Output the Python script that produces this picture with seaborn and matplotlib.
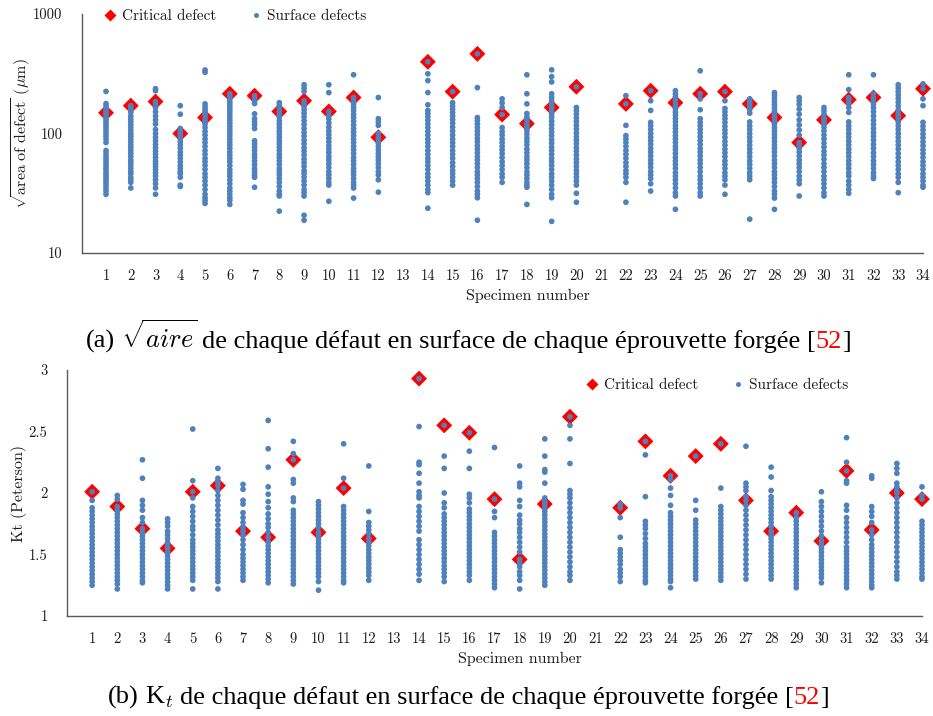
import numpy as np
import pandas as pd
import matplotlib
matplotlib.use("Agg")
import matplotlib.pyplot as plt
from matplotlib.lines import Line2D
import seaborn as sns

# ---------------------------------------------------------------- data
specimens = list(range(1, 35))
x_tick_labels = [str(s) for s in specimens]

# sqrt(area) of the critical (crack-initiating) defect, µm; nan = not tested
crit_area = [149, 171, 185, 100, 136, 215, 207, 153, 188, 153, 200, 93, np.nan,
             398, 224, 464, 144, 121, 165, 246, np.nan, 177, 228, 181, 215, 224,
             177, 136, 84, 130, 192, 200, 141, 237]

# Peterson Kt of the critical defect
crit_kt = [2.01, 1.89, 1.71, 1.55, 2.01, 2.06, 1.69, 1.64, 2.27, 1.68, 2.04, 1.63, np.nan,
           2.93, 2.55, 2.49, 1.95, 1.46, 1.91, 2.62, np.nan, 1.88, 2.42, 2.14, 2.30, 2.40,
           1.94, 1.69, 1.84, 1.61, 2.18, 1.70, 2.00, 1.95]

# sqrt(area) of every surface defect, one list per specimen (µm)
area_01 = [225, 178, 170, 162, 155, 149, 143, 136, 130, 124, 118, 112, 106, 100, 95, 90, 84, 72, 68, 64, 61, 58, 55, 52, 50, 47, 45, 43, 41, 39, 37, 35, 33, 31]
area_02 = [171, 165, 158, 150, 140, 132, 125, 118, 112, 106, 100, 95, 90, 85, 80, 76, 72, 68, 64, 60, 57, 54, 51, 48, 46, 43, 41, 39, 35]
area_03 = [237, 228, 185, 176, 165, 152, 140, 130, 120, 108, 100, 93, 87, 81, 76, 71, 67, 63, 59, 56, 53, 50, 47, 44, 41, 38, 35, 31]
area_04 = [171, 145, 110, 104, 100, 95, 90, 85, 80, 75, 70, 66, 62, 58, 54, 51, 48, 46, 43, 37, 36]
area_05 = [340, 325, 177, 168, 160, 152, 145, 136, 128, 120, 112, 104, 97, 90, 84, 78, 72, 67, 62, 58, 54, 50, 46, 43, 40, 37, 34, 31, 29, 27.5, 26]
area_06 = [215, 205, 195, 185, 176, 168, 160, 152, 144, 136, 129, 122, 115, 108, 102, 96, 90, 85, 80, 75, 70, 66, 62, 58, 54, 50, 47, 44, 41, 38, 35, 33, 31, 29, 27.6, 25.5]
area_07 = [207, 198, 188, 178, 146, 133, 125, 118, 110, 87, 82, 77, 72, 67, 63, 59, 55, 51, 48, 45, 43, 35.5]
area_08 = [181, 172, 163, 153, 145, 137, 128, 120, 112, 105, 99, 93, 87, 82, 77, 72, 67, 63, 59, 55, 51, 48, 45, 42, 39, 36, 33, 31, 30, 22.4]
area_09 = [256, 240, 225, 188, 178, 168, 158, 148, 138, 128, 119, 110, 102, 95, 88, 82, 76, 71, 66, 61, 57, 53, 49, 46, 43, 40, 37, 34, 32, 30, 20.7, 18.8]
area_10 = [256, 220, 153, 141, 132, 122, 113, 105, 98, 91, 85, 79, 74, 69, 64, 60, 56, 52, 48, 45, 42, 39, 37, 27.1]
area_11 = [310, 200, 190, 176, 165, 155, 145, 136, 127, 118, 110, 103, 96, 90, 84, 78, 73, 68, 63, 59, 55, 51, 48, 45, 42, 39, 37, 35, 28.8]
area_12 = [200, 133, 125, 117, 100, 93, 88, 83, 78, 73, 68, 64, 60, 56, 52, 48, 45, 41, 32.3]
area_13 = []
area_14 = [398, 316, 277, 220, 174, 156, 147, 138, 129, 120, 112, 104, 97, 90, 84, 78, 72, 67, 62, 58, 54, 50, 46, 43, 40, 37, 34, 32, 23.7]
area_15 = [224, 181, 170, 160, 150, 140, 131, 122, 113, 105, 97, 90, 84, 78, 72, 67, 62, 57, 53, 49, 46, 43, 40, 37]
area_16 = [464, 242, 136, 128, 120, 112, 105, 98, 91, 85, 79, 74, 69, 64, 60, 56, 52, 48, 45, 42, 39, 36, 33, 31, 29, 18.8]
area_17 = [195, 180, 165, 144, 112, 104, 97, 90, 84, 78, 73, 68, 63, 58, 54, 50, 46, 43, 39]
area_18 = [310, 215, 177, 147, 138, 130, 121, 114, 106, 99, 92, 86, 80, 74, 69, 64, 60, 56, 52, 48, 45, 42, 39, 37, 35.5, 25.5]
area_19 = [341, 299, 270, 215, 200, 188, 176, 165, 155, 145, 136, 127, 118, 110, 103, 96, 89, 83, 77, 72, 67, 62, 58, 54, 50, 46, 43, 40, 37, 34, 31, 29, 18.4]
area_20 = [246, 165, 155, 145, 135, 126, 117, 109, 101, 94, 88, 82, 76, 71, 66, 61, 57, 53, 49, 46, 43, 40, 37, 31.6, 26.6]
area_21 = []
area_22 = [207, 177, 117, 96, 90, 84, 78, 72, 67, 62, 57, 53, 49, 46, 43, 39, 26.6]
area_23 = [228, 188, 156, 124, 116, 108, 100, 93, 87, 81, 75, 70, 65, 60, 56, 52, 48, 45, 42, 38, 33]
area_24 = [228, 215, 203, 192, 181, 171, 161, 151, 142, 133, 125, 117, 110, 103, 96, 90, 84, 78, 73, 68, 63, 59, 55, 51, 47, 44, 41, 38, 35, 32, 30, 23.2]
area_25 = [335, 215, 195, 158, 133, 124, 116, 108, 101, 94, 87, 81, 75, 70, 65, 60, 56, 52, 48, 44, 41, 38, 35, 32, 30]
area_26 = [224, 188, 162, 152, 142, 133, 124, 115, 107, 100, 93, 86, 80, 74, 69, 64, 59, 55, 51, 47, 44, 41, 37, 31]
area_27 = [195, 185, 177, 168, 158, 148, 125, 116, 108, 100, 93, 86, 80, 74, 69, 64, 59, 55, 51, 47, 44, 41, 19.2]
area_28 = [220, 208, 196, 185, 174, 164, 154, 145, 136, 128, 120, 112, 105, 98, 92, 86, 80, 75, 70, 65, 60, 56, 52, 48, 45, 42, 39, 36, 33, 31, 28.8, 23.2]
area_29 = [200, 188, 175, 160, 145, 130, 118, 107, 97, 84, 80, 75, 70, 65, 60, 56, 52, 48, 44, 41, 38, 30]
area_30 = [165, 155, 145, 136, 130, 122, 113, 105, 97, 90, 83, 77, 71, 66, 61, 56, 52, 48, 44, 41, 38, 35, 32, 30]
area_31 = [310, 233, 200, 192, 180, 165, 150, 125, 116, 108, 100, 93, 86, 80, 74, 69, 64, 59, 55, 51, 47, 44, 40, 37, 34, 31.6]
area_32 = [310, 215, 200, 188, 176, 164, 152, 140, 129, 119, 110, 102, 95, 88, 81, 75, 69, 64, 59, 55, 51, 47, 44, 42]
area_33 = [256, 240, 225, 210, 196, 183, 170, 158, 147, 141, 135, 125, 116, 108, 100, 93, 86, 80, 74, 68, 63, 58, 54, 50, 46, 43, 39, 32]
area_34 = [260, 237, 195, 171, 124, 115, 107, 99, 92, 85, 79, 73, 68, 63, 58, 54, 50, 46, 43, 40, 37, 35.5]

# Peterson Kt of every surface defect, one list per specimen
kt_01 = [2.01, 1.94, 1.88, 1.85, 1.82, 1.79, 1.76, 1.73, 1.70, 1.67, 1.64, 1.61, 1.58, 1.55, 1.52, 1.49, 1.46, 1.43, 1.40, 1.37, 1.34, 1.31, 1.28, 1.25]
kt_02 = [1.98, 1.95, 1.89, 1.86, 1.83, 1.80, 1.77, 1.74, 1.71, 1.68, 1.65, 1.62, 1.59, 1.56, 1.53, 1.50, 1.47, 1.44, 1.41, 1.38, 1.35, 1.32, 1.29, 1.26, 1.22]
kt_03 = [2.27, 2.12, 1.94, 1.90, 1.86, 1.80, 1.76, 1.71, 1.68, 1.65, 1.62, 1.59, 1.56, 1.53, 1.50, 1.47, 1.44, 1.41, 1.38, 1.35, 1.32, 1.29, 1.27]
kt_04 = [1.79, 1.76, 1.73, 1.69, 1.66, 1.63, 1.60, 1.57, 1.55, 1.52, 1.49, 1.46, 1.43, 1.40, 1.37, 1.34, 1.31, 1.28, 1.25, 1.22]
kt_05 = [2.52, 2.10, 2.01, 1.96, 1.89, 1.85, 1.81, 1.77, 1.73, 1.70, 1.66, 1.62, 1.59, 1.56, 1.53, 1.50, 1.47, 1.44, 1.41, 1.38, 1.35, 1.32, 1.29, 1.22]
kt_06 = [2.20, 2.12, 2.09, 2.06, 2.02, 1.98, 1.94, 1.90, 1.86, 1.82, 1.78, 1.74, 1.70, 1.67, 1.64, 1.61, 1.58, 1.55, 1.52, 1.49, 1.46, 1.43, 1.40, 1.37, 1.34, 1.31, 1.28, 1.22]
kt_07 = [2.07, 2.03, 1.94, 1.91, 1.84, 1.80, 1.76, 1.72, 1.69, 1.66, 1.62, 1.58, 1.54, 1.50, 1.47, 1.44, 1.41, 1.38, 1.35, 1.32, 1.29]
kt_08 = [2.59, 2.36, 2.21, 2.05, 1.99, 1.93, 1.88, 1.83, 1.79, 1.75, 1.72, 1.68, 1.64, 1.60, 1.57, 1.54, 1.51, 1.48, 1.45, 1.42, 1.39, 1.36, 1.33, 1.30, 1.27]
kt_09 = [2.42, 2.32, 2.27, 2.11, 2.08, 1.96, 1.93, 1.86, 1.83, 1.80, 1.77, 1.74, 1.71, 1.68, 1.65, 1.62, 1.59, 1.56, 1.53, 1.50, 1.47, 1.44, 1.41, 1.38, 1.35, 1.32, 1.29, 1.26]
kt_10 = [1.93, 1.90, 1.87, 1.84, 1.81, 1.78, 1.75, 1.72, 1.68, 1.65, 1.62, 1.59, 1.56, 1.53, 1.50, 1.47, 1.44, 1.41, 1.38, 1.35, 1.32, 1.28, 1.21]
kt_11 = [2.40, 2.12, 2.04, 1.89, 1.86, 1.83, 1.80, 1.77, 1.74, 1.71, 1.68, 1.65, 1.62, 1.59, 1.56, 1.53, 1.50, 1.47, 1.44, 1.41, 1.38, 1.35, 1.32, 1.29, 1.27]
kt_12 = [2.22, 1.85, 1.76, 1.73, 1.70, 1.67, 1.63, 1.60, 1.57, 1.54, 1.51, 1.48, 1.45, 1.42, 1.39, 1.36, 1.33, 1.29]
kt_13 = []
kt_14 = [2.93, 2.54, 2.25, 2.23, 2.16, 2.08, 2.01, 1.98, 1.96, 1.89, 1.85, 1.81, 1.77, 1.73, 1.69, 1.62, 1.58, 1.54, 1.50, 1.46, 1.42, 1.38, 1.34, 1.29]
kt_15 = [2.55, 2.30, 2.20, 2.00, 1.92, 1.88, 1.83, 1.80, 1.77, 1.74, 1.71, 1.68, 1.65, 1.62, 1.59, 1.56, 1.53, 1.50, 1.47, 1.44, 1.41, 1.38, 1.35, 1.32, 1.28]
kt_16 = [2.49, 2.34, 2.20, 1.99, 1.96, 1.92, 1.87, 1.84, 1.81, 1.78, 1.75, 1.72, 1.69, 1.66, 1.63, 1.60, 1.57, 1.54, 1.51, 1.48, 1.45, 1.42, 1.39, 1.36, 1.33, 1.29]
kt_17 = [2.37, 1.95, 1.85, 1.80, 1.68, 1.65, 1.62, 1.59, 1.56, 1.53, 1.50, 1.47, 1.44, 1.41, 1.38, 1.35, 1.32, 1.29, 1.26, 1.23]
kt_18 = [2.22, 2.08, 2.05, 1.94, 1.89, 1.82, 1.78, 1.75, 1.71, 1.68, 1.64, 1.60, 1.56, 1.52, 1.46, 1.43, 1.40, 1.36, 1.33, 1.29, 1.22]
kt_19 = [2.44, 2.30, 2.19, 2.17, 2.08, 1.96, 1.93, 1.91, 1.88, 1.85, 1.82, 1.79, 1.76, 1.73, 1.70, 1.67, 1.64, 1.61, 1.58, 1.55, 1.52, 1.49, 1.46, 1.43, 1.40, 1.37, 1.34, 1.31, 1.28, 1.25]
kt_20 = [2.62, 2.55, 2.44, 2.24, 2.02, 1.99, 1.96, 1.92, 1.88, 1.84, 1.80, 1.76, 1.72, 1.68, 1.64, 1.60, 1.56, 1.52, 1.48, 1.44, 1.40, 1.36, 1.33, 1.29]
kt_21 = []
kt_22 = [1.91, 1.88, 1.80, 1.64, 1.54, 1.51, 1.48, 1.45, 1.42, 1.38, 1.35, 1.32, 1.28]
kt_23 = [2.42, 2.31, 1.97, 1.77, 1.74, 1.71, 1.67, 1.63, 1.59, 1.56, 1.53, 1.50, 1.47, 1.44, 1.41, 1.38, 1.35, 1.32, 1.29, 1.27]
kt_24 = [2.14, 2.11, 2.04, 1.98, 1.90, 1.84, 1.81, 1.78, 1.75, 1.72, 1.69, 1.66, 1.63, 1.60, 1.57, 1.54, 1.51, 1.48, 1.45, 1.42, 1.39, 1.36, 1.33, 1.30, 1.28, 1.23]
kt_25 = [2.30, 1.94, 1.86, 1.78, 1.75, 1.72, 1.69, 1.66, 1.63, 1.60, 1.57, 1.54, 1.51, 1.48, 1.45, 1.42, 1.39, 1.36, 1.33, 1.30]
kt_26 = [2.40, 2.04, 1.89, 1.86, 1.83, 1.80, 1.77, 1.74, 1.71, 1.68, 1.65, 1.62, 1.59, 1.56, 1.53, 1.50, 1.47, 1.44, 1.41, 1.38, 1.35, 1.32, 1.29]
kt_27 = [2.38, 2.08, 2.05, 2.02, 1.97, 1.94, 1.90, 1.86, 1.82, 1.78, 1.74, 1.70, 1.66, 1.62, 1.58, 1.54, 1.50, 1.46, 1.42, 1.38, 1.34, 1.30]
kt_28 = [2.21, 2.13, 2.02, 1.97, 1.94, 1.91, 1.88, 1.85, 1.82, 1.79, 1.76, 1.73, 1.69, 1.66, 1.63, 1.60, 1.57, 1.54, 1.51, 1.48, 1.45, 1.42, 1.39, 1.36, 1.33, 1.30]
kt_29 = [1.84, 1.80, 1.77, 1.74, 1.71, 1.68, 1.65, 1.62, 1.59, 1.56, 1.53, 1.50, 1.47, 1.44, 1.41, 1.38, 1.35, 1.32, 1.29, 1.26, 1.23]
kt_30 = [2.01, 1.93, 1.89, 1.85, 1.81, 1.77, 1.73, 1.69, 1.65, 1.61, 1.58, 1.55, 1.52, 1.49, 1.46, 1.43, 1.40, 1.37, 1.34, 1.31, 1.27]
kt_31 = [2.45, 2.25, 2.18, 2.10, 2.08, 1.90, 1.86, 1.80, 1.76, 1.72, 1.68, 1.64, 1.60, 1.56, 1.53, 1.50, 1.47, 1.44, 1.41, 1.38, 1.35, 1.32, 1.29, 1.26, 1.23]
kt_32 = [2.14, 2.12, 1.89, 1.85, 1.81, 1.76, 1.70, 1.66, 1.62, 1.58, 1.55, 1.52, 1.49, 1.46, 1.43, 1.40, 1.37, 1.34, 1.31, 1.28, 1.25, 1.23]
kt_33 = [2.24, 2.20, 2.16, 2.08, 2.05, 2.02, 2.00, 1.96, 1.92, 1.88, 1.84, 1.80, 1.76, 1.72, 1.68, 1.64, 1.60, 1.56, 1.52, 1.48, 1.44, 1.40, 1.36, 1.33, 1.30]
kt_34 = [2.05, 1.98, 1.95, 1.77, 1.74, 1.71, 1.68, 1.65, 1.62, 1.59, 1.56, 1.53, 1.50, 1.47, 1.44, 1.41, 1.38, 1.35, 1.32, 1.30]

area_lists = [area_01, area_02, area_03, area_04, area_05, area_06, area_07, area_08, area_09,
              area_10, area_11, area_12, area_13, area_14, area_15, area_16, area_17, area_18,
              area_19, area_20, area_21, area_22, area_23, area_24, area_25, area_26, area_27,
              area_28, area_29, area_30, area_31, area_32, area_33, area_34]
kt_lists = [kt_01, kt_02, kt_03, kt_04, kt_05, kt_06, kt_07, kt_08, kt_09, kt_10, kt_11, kt_12,
            kt_13, kt_14, kt_15, kt_16, kt_17, kt_18, kt_19, kt_20, kt_21, kt_22, kt_23, kt_24,
            kt_25, kt_26, kt_27, kt_28, kt_29, kt_30, kt_31, kt_32, kt_33, kt_34]

area_ticks = [10, 100, 1000]
kt_ticks = [1, 1.5, 2, 2.5, 3]
kt_tick_labels = ["1", "1.5", "2", "2.5", "3"]


def long_table(lists):
    rows = [(s, v) for s, vals in zip(specimens, lists) for v in vals]
    return pd.DataFrame(rows, columns=["specimen", "value"])


surf_area = long_table(area_lists)
surf_kt = long_table(kt_lists)
crit_area_df = pd.DataFrame({"specimen": specimens, "value": crit_area}).dropna()
crit_kt_df = pd.DataFrame({"specimen": specimens, "value": crit_kt}).dropna()

# ---------------------------------------------------------------- style
sns.set_style("white")
plt.rcParams["font.family"] = ["cmr10", "DejaVu Serif"]
plt.rcParams["mathtext.fontset"] = "cm"
plt.rcParams["axes.unicode_minus"] = False

BLUE = "#4f81bd"
RED = "#ff0000"
SPINE = "#5a5a5a"
TXT = "#1a1a1a"

W, H = 933, 716
fig = plt.figure(figsize=(W / 100, H / 100), dpi=100)
ax_a = fig.add_axes([82 / W, 1 - 253 / H, 841 / W, 239 / H])
ax_b = fig.add_axes([67 / W, 1 - 616 / H, 855 / W, 246 / H])


def draw_panel(ax, surf, crit):
    sns.scatterplot(data=crit, x="specimen", y="value", ax=ax, marker="D", s=66,
                    color=RED, edgecolor="none", linewidth=0, legend=False,
                    clip_on=False, zorder=3)
    sns.scatterplot(data=surf, x="specimen", y="value", ax=ax, marker="o", s=17,
                    color=BLUE, edgecolor="none", linewidth=0, legend=False,
                    clip_on=False, zorder=4)
    for side in ("top", "right"):
        ax.spines[side].set_visible(False)
    for side in ("left", "bottom"):
        ax.spines[side].set_color(SPINE)
        ax.spines[side].set_linewidth(1.0)
    ax.set_xticks(specimens)
    ax.set_xticklabels(x_tick_labels)
    ax.tick_params(axis="both", direction="in", color=SPINE, width=1.0,
                   labelsize=10.5, labelcolor=TXT)
    ax.tick_params(axis="x", length=5, pad=12)
    ax.tick_params(axis="y", length=4, pad=14)
    ax.tick_params(which="minor", length=0)
    ax.set_xlabel("Specimen number", fontsize=11.5, color=TXT)
    ax.grid(False)


# (a) defect size
draw_panel(ax_a, surf_area, crit_area_df)
ax_a.set_yscale("log")
ax_a.set_ylim(10, 1000)
ax_a.set_xlim(0.03, 34)
ax_a.set_yticks(area_ticks)
ax_a.set_yticklabels([str(t) for t in area_ticks])
ax_a.yaxis.set_minor_locator(matplotlib.ticker.NullLocator())
ax_a.set_ylabel(r"$\sqrt{\mathrm{area\ of\ defect}}$ ($\mu$m)", fontsize=11.5, color=TXT)
ax_a.yaxis.set_label_coords(-0.058, 0.5)
ax_a.xaxis.set_label_coords(0.53, -0.148)

# (b) stress concentration factor
draw_panel(ax_b, surf_kt, crit_kt_df)
ax_b.set_ylim(1, 3)
ax_b.set_xlim(0.0, 34)
ax_b.set_yticks(kt_ticks)
ax_b.set_yticklabels(kt_tick_labels)
ax_b.set_ylabel("Kt (Peterson)", fontsize=11.5, color=TXT)
ax_b.yaxis.set_label_coords(-0.047, 0.5)
ax_b.xaxis.set_label_coords(0.53, -0.146)

handles = [Line2D([], [], ls="none", marker="D", ms=6.5, color=RED, mec="none"),
           Line2D([], [], ls="none", marker="o", ms=3.6, color=BLUE, mec="none")]
labels = ["Critical defect", "Surface defects"]
leg_kw = dict(ncol=2, frameon=False, fontsize=11, handlelength=0.8, handletextpad=0.35,
              columnspacing=2.2, borderpad=0, borderaxespad=0, loc="center left",
              labelcolor=TXT)
ax_a.legend(handles, labels, bbox_to_anchor=((104 - 82) / 841, (253 - 16) / 239), **leg_kw)
ax_b.legend(handles, labels, bbox_to_anchor=((586 - 67) / 855, (616 - 385) / 246), **leg_kw)

# ---------------------------------------------------------------- captions
CAP_FONT = dict(family=["Liberation Serif", "DejaVu Serif"], fontsize=19)
renderer = fig.canvas.get_renderer()


def text_width(s):
    t = fig.text(0, 0, s, **CAP_FONT)
    w = t.get_window_extent(renderer).width
    t.remove()
    return w


space = text_width("x x") - text_width("xx")


def caption(center_x, baseline_y, parts):
    items = []
    for s, color, gap in parts:
        t = fig.text(0, 1 - baseline_y / H, s, color=color, ha="left", va="baseline", **CAP_FONT)
        w = t.get_window_extent(renderer).width
        items.append((t, w, gap))
    total = sum(w + gap * space for _, w, gap in items)
    x = center_x - total / 2
    for t, w, gap in items:
        t.set_x(x / W)
        x += w + gap * space


caption(468, 348, [("(a)", "black", 1), (r"$\sqrt{aire}$", "black", 0.6),
                   ("de chaque défaut en surface de chaque éprouvette forgée", "black", 1),
                   ("[", "black", 0), ("52", RED, 0), ("]", "black", 0)])
caption(468, 704, [("(b)", "black", 1), (r"K$_t$", "black", 1),
                   ("de chaque défaut en surface de chaque éprouvette forgée", "black", 1),
                   ("[", "black", 0), ("52", RED, 0), ("]", "black", 0)])

fig.savefig("out.png", dpi=100, facecolor="white")
